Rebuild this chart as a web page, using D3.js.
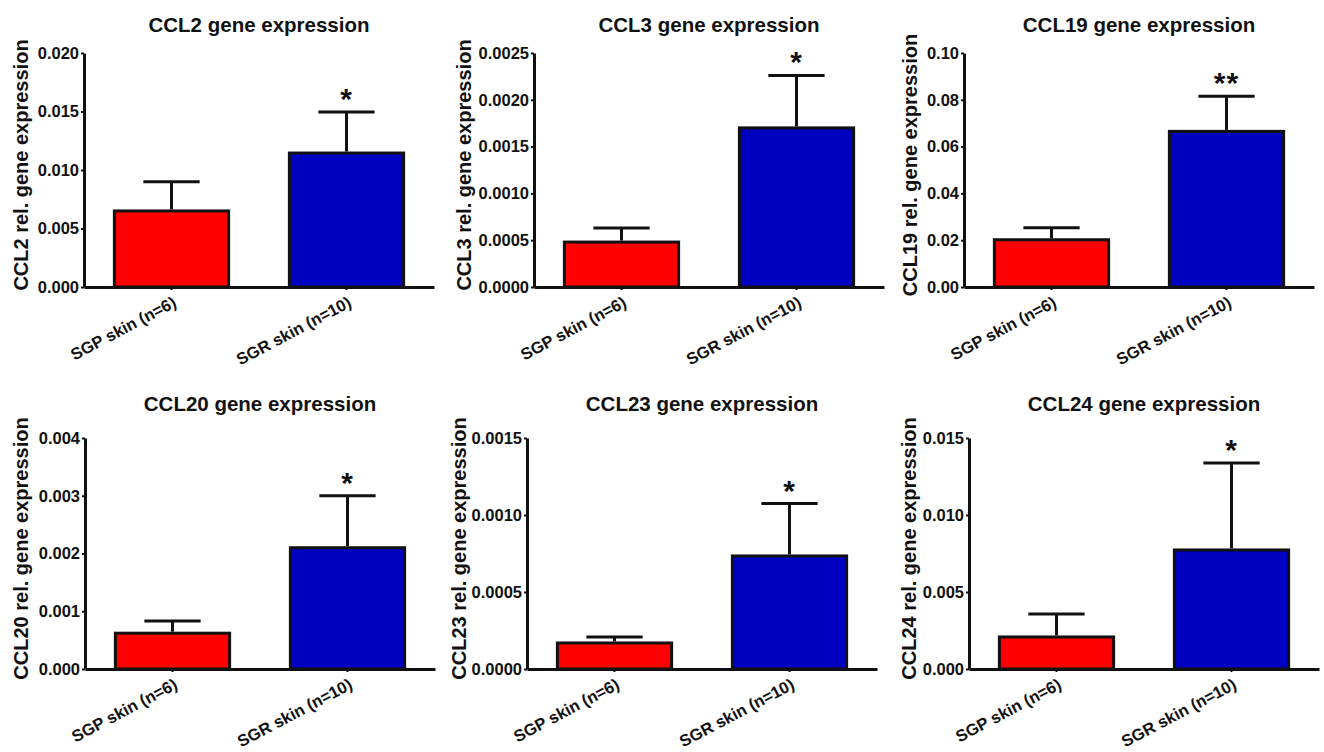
<!DOCTYPE html>
<html>
<head>
<meta charset="utf-8">
<script src="https://cdn.jsdelivr.net/npm/d3@7"></script>
<style>
  body { margin: 0; background: #fff; }
  text { font-family: "Liberation Sans", Arial, sans-serif; font-weight: bold; fill: #111; }
</style>
</head>
<body>
<svg id="chart" width="1324" height="752"></svg>
<script>
// values (mean and SEM)
var genes = ["CCL2", "CCL3", "CCL19", "CCL20", "CCL23", "CCL24"];
var groups = ["SGP skin (n=6)", "SGR skin (n=10)"];
var sgpMean = [0.0065, 0.00048, 0.0202, 0.00062, 0.000169, 0.00208];
var sgpErr = [0.0025, 0.00015, 0.0051, 0.00021, 0.000039, 0.00149];
var sgrMean = [0.01145, 0.0017, 0.0665, 0.0021, 0.000734, 0.00773];
var sgrErr = [0.0035, 0.00056, 0.015, 0.0009, 0.00034, 0.00565];
var yMax = [0.020, 0.0025, 0.10, 0.004, 0.0015, 0.015];
var yStep = [0.005, 0.0005, 0.02, 0.001, 0.0005, 0.005];
var yDecimals = [3, 4, 2, 3, 4, 3];
var stars = ["*", "*", "**", "*", "*", "*"];
var barColors = ["#ff0000", "#0000c0"];

// panel placement
var colX = [0, 440, 880];
var axisOffset = [84, 94, 84, 85, 87, 89];
var labelOffset = [21, 24, 30, 21, 19, 29];
var rowTop = [53, 438];
var rowBottom = [287, 669];
var titleY = [32, 411];
var plotW = 350;

var svg = d3.select("#chart");

genes.forEach(function (gene, i) {
  var col = i % 3, row = Math.floor(i / 3);
  var left = colX[col] + axisOffset[i];
  var top = rowTop[row], h = rowBottom[row] - rowTop[row];

  var g = svg.append("g").attr("transform", "translate(" + left + "," + top + ")");

  var x = d3.scaleBand().domain(groups).range([0, plotW]).paddingInner(0.33).paddingOuter(0.165);
  var y = d3.scaleLinear().domain([0, yMax[i]]).range([h, 0]);

  var rows = [
    { group: groups[0], mean: sgpMean[i], err: sgpErr[i], color: barColors[0] },
    { group: groups[1], mean: sgrMean[i], err: sgrErr[i], color: barColors[1] }
  ];

  // bars
  g.selectAll(".bar")
    .data(rows)
    .enter()
    .append("rect")
    .attr("x", d => x(d.group) + 1.5)
    .attr("y", d => y(d.mean))
    .attr("width", x.bandwidth() - 3)
    .attr("height", d => h - y(d.mean))
    .attr("fill", d => d.color)
    .attr("stroke", "#111")
    .attr("stroke-width", 3);

  // error bars (upper only)
  var cx = d => x(d.group) + x.bandwidth() / 2;
  var capW = x.bandwidth() * 0.48;
  g.selectAll(".errv")
    .data(rows)
    .enter()
    .append("line")
    .attr("x1", cx).attr("x2", cx)
    .attr("y1", d => y(d.mean) - 1.5)
    .attr("y2", d => y(d.mean + d.err))
    .attr("stroke", "#111").attr("stroke-width", 3);
  g.selectAll(".errc")
    .data(rows)
    .enter()
    .append("line")
    .attr("x1", d => cx(d) - capW / 2).attr("x2", d => cx(d) + capW / 2)
    .attr("y1", d => y(d.mean + d.err))
    .attr("y2", d => y(d.mean + d.err))
    .attr("stroke", "#111").attr("stroke-width", 3);

  // significance
  g.append("text")
    .attr("x", cx(rows[1]))
    .attr("y", y(rows[1].mean + rows[1].err) - 3)
    .attr("text-anchor", "middle")
    .style("font-size", "30px")
    .style("letter-spacing", "1px")
    .text(stars[i]);

  // y axis
  var tickVals = d3.range(0, yMax[i] + yStep[i] / 2, yStep[i]);
  var yAxis = g.append("g")
    .call(d3.axisLeft(y).tickValues(tickVals).tickFormat(d3.format("." + yDecimals[i] + "f"))
      .tickSize(3).tickSizeOuter(0).tickPadding(2));
  yAxis.select(".domain").attr("stroke", "#111").attr("stroke-width", 3);
  yAxis.selectAll(".tick line").attr("stroke", "#111").attr("stroke-width", 2);
  yAxis.selectAll(".tick text").style("font-size", "16.5px").attr("font-family", null).attr("fill", null);

  // x axis
  var xAxis = g.append("g")
    .attr("transform", "translate(0," + h + ")")
    .call(d3.axisBottom(x).tickSize(3).tickSizeOuter(0));
  xAxis.select(".domain").attr("stroke", "#111").attr("stroke-width", 3);
  xAxis.selectAll(".tick line").attr("stroke", "#111").attr("stroke-width", 2);
  xAxis.selectAll(".tick text")
    .attr("font-family", null).attr("fill", null)
    .style("font-size", "16.5px")
    .attr("text-anchor", "end")
    .attr("x", 0).attr("y", 0).attr("dy", null)
    .attr("transform", "translate(6,19) rotate(-28)");

  // title
  svg.append("text")
    .attr("x", left + plotW / 2)
    .attr("y", titleY[row])
    .attr("text-anchor", "middle")
    .style("font-size", "20.5px")
    .text(gene + " gene expression");

  // y label
  svg.append("text")
    .attr("transform", "translate(" + (colX[col] + labelOffset[i] + 7) + "," + (top + h / 2 - 5) + ") rotate(-90)")
    .attr("text-anchor", "middle")
    .style("font-size", "20px")
    .text(gene + " rel. gene expression");
});
</script>
</body>
</html>
